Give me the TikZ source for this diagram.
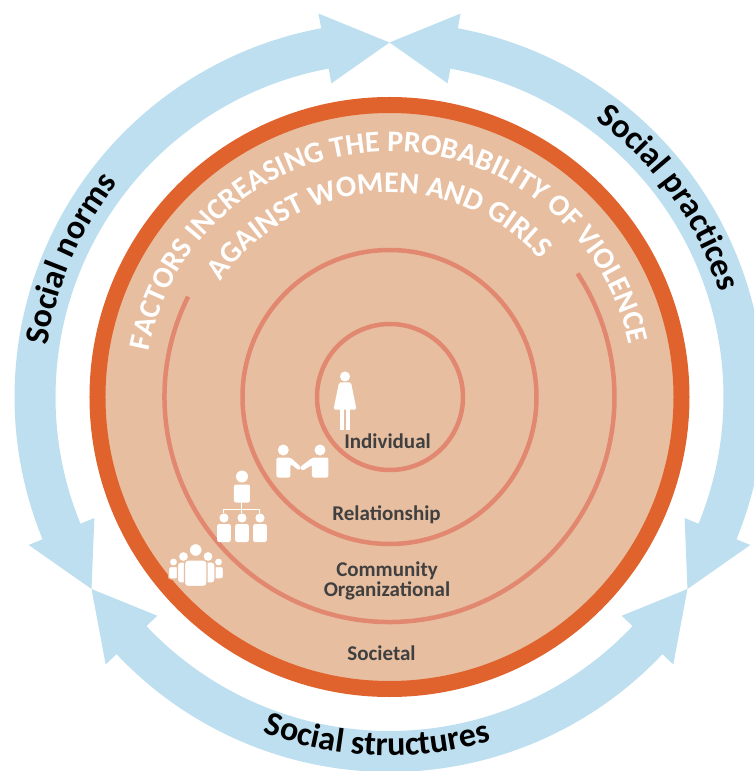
\documentclass[tikz,border=0pt]{standalone}
\usepackage{fontspec}
\setmainfont{Carlito}
\usetikzlibrary{decorations.text}
\definecolor{skyb}{RGB}{189,223,240}
\definecolor{ringor}{RGB}{224,99,46}
\definecolor{peach}{RGB}{231,190,160}
\definecolor{salmon}{RGB}{226,135,112}
\definecolor{darktxt}{RGB}{64,64,64}
\newcommand\titlefnt{\bfseries\fontsize{30}{36}\selectfont}
\newcommand\socialfnt{\bfseries\fontsize{34}{40}\selectfont}
% curved double-headed blue arrow between tip angles #1 < #2
\newcommand\bluearrow[2]{%
  \fill[skyb] (#1:354.5) -- ({#1+10.5}:390) -- ({#1+10.5}:375)
    arc[start angle={#1+10.5}, end angle={#2-10.5}, radius=375]
    -- ({#2-10.5}:390) -- (#2:354.5) -- ({#2-10.5}:319) -- ({#2-10.5}:334)
    arc[start angle={#2-10.5}, end angle={#1+10.5}, radius=334]
    -- ({#1+10.5}:319) -- cycle;}
\tikzset{
  ringline/.style={salmon, line width=4.5},
  lbl/.style={font=\bfseries\fontsize{21}{25}\selectfont, text=darktxt, inner sep=0pt, anchor=base},
  icon/.style={fill=white},
  crowd/.style={fill=white, draw=peach, line width=1.2}
}
\begin{document}
\begin{tikzpicture}[x=1pt,y=1pt]
\useasboundingbox (-389.5,-374) rectangle (364.5,397);
% outer blue arrows
\bluearrow{90}{212.8}
\bluearrow{212.8}{327.2}
\bluearrow{327.2}{450}
% disk and rings
\fill[peach] (0,0) circle[radius=292];
\draw[ringor, line width=16] (0,0) circle[radius=292];
\draw[ringline] (0.5,0) circle[radius=73];
\draw[ringline] (0,0) circle[radius=147];
\draw[ringline] (153.5:225) arc[start angle=153.5, end angle=393.3, radius=225];
% curved title
\path[decorate, decoration={text along path, text align=center,
  text={|\titlefnt\color{white}|FACTORS INCREASING THE PROBABILITY OF VIOLENCE}}]
  (190:245.5) arc[start angle=190, end angle=-8.4, radius=245.5];
\path[decorate, decoration={text along path, text align=center,
  text={|\titlefnt\color{white}|AGAINST WOMEN AND GIRLS}}]
  (175:204.5) arc[start angle=175, end angle=12.8, radius=204.5];
% social labels on the arrows
\path[decorate, decoration={text along path, text align=center,
  text={|\socialfnt\color{black}|Social norms}}]
  (196.6:346) arc[start angle=196.6, end angle=116.6, radius=346];
\path[decorate, decoration={text along path, text align=center,
  text={|\socialfnt\color{black}|Social practices}}]
  (75.5:346) arc[start angle=75.5, end angle=-4.5, radius=346];
\path[decorate, decoration={text along path, text align=center,
  text={|\socialfnt\color{black}|Social structures}}]
  (227.9:358.5) arc[start angle=227.9, end angle=307.9, radius=358.5];
% level labels
\node[lbl] (indiv) at (-2,-51) {Individual};
\node[lbl] (relat) at (-3,-123) {Relationship};
\node[lbl] (commun) at (-2.5,-179) {Community};
\node[lbl] (organ) at (-2.5,-199.7) {Organizational};
\node[lbl] (societ) at (-8,-263.7) {Societal};
% icons (pixel coordinates)
\begin{scope}[shift={(-389.5,397)}, y=-1pt]
  % woman
  \fill[icon] (345,376.5) circle[radius=5];
  \fill[icon, rounded corners=1.5] (339,382.5) -- (351,382.5) -- (356.5,409.5) -- (333.5,409.5) -- cycle;
  \fill[icon] (340.2,408) rectangle (344,430);
  \fill[icon] (346,408) rectangle (349.8,430);
  % handshake
  \fill[icon] (283.3,450) circle[radius=5.5];
  \fill[icon] (320,450) circle[radius=5.5];
  \fill[icon, rounded corners=2] (276.5,477.5) -- (276.5,457.5) -- (290.5,457.5) -- (301,467) -- (299,470.5) -- (290.5,464) -- (290.5,477.5) -- cycle;
  \fill[icon, rounded corners=2] (328.5,477.5) -- (328.5,457.5) -- (312.5,457.5) -- (299.5,467.5) -- (302,471) -- (312,465) -- (312,477.5) -- cycle;
  % hierarchy
  \fill[icon] (242,476.5) circle[radius=6];
  \fill[icon, rounded corners=2] (234,502.5) rectangle (250,484.5);
  \draw[white, line width=1] (242,502) -- (242,513) (224,513) -- (224,509.5) -- (260,509.5) -- (260,513);
  \foreach \cx in {224,242,260}{
    \fill[icon] (\cx,518) circle[radius=4.6];
    \fill[icon, rounded corners=2] ({\cx-6.8},542) rectangle ({\cx+6.8},524);
  }
  % crowd
  \fill[crowd, rounded corners=2.5] (168.5,579) rectangle (178.5,566.5);
  \fill[crowd, rounded corners=2.5] (213.5,579) rectangle (223.5,566.5);
  \fill[crowd] (173.5,562) circle[radius=4.2];
  \fill[crowd] (218.5,562) circle[radius=4.2];
  \fill[crowd, rounded corners=3] (177.5,583) rectangle (191.5,562);
  \fill[crowd, rounded corners=3] (201,583) rectangle (215,562);
  \fill[crowd] (183.5,556.5) circle[radius=5.2];
  \fill[crowd] (208,556.5) circle[radius=5.2];
  \fill[crowd, rounded corners=3.5] (184.5,586.5) rectangle (207,560);
  \fill[crowd] (195.7,550) circle[radius=6.5];
\end{scope}
\end{tikzpicture}
\end{document}
